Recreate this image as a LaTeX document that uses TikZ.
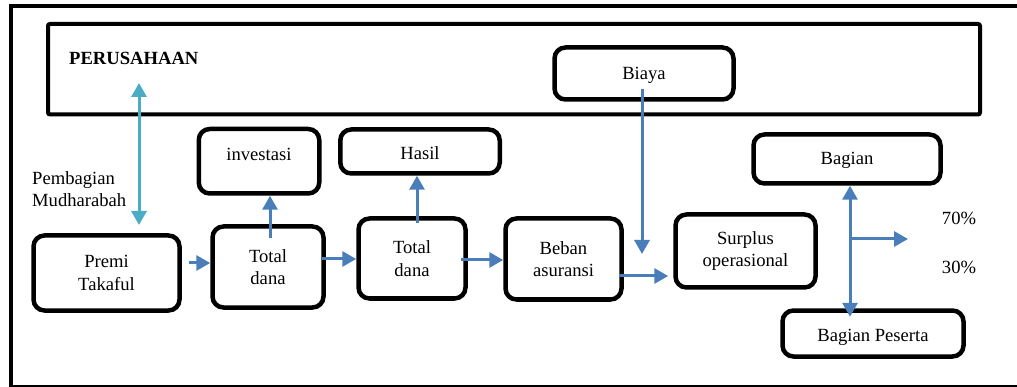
\documentclass[tikz,border=0pt]{standalone}
\usepackage{fontspec}
\setmainfont{Liberation Serif}
\usetikzlibrary{arrows.meta}
\definecolor{arrblue}{HTML}{4A7EBB}
\definecolor{tealc}{HTML}{4BACC6}
\begin{document}
\begin{tikzpicture}[x=1pt,y=-1pt,
  txt/.style={font=\fontsize{18.6}{22.5}\selectfont},
  box/.style={txt,draw=black,fill=white,line width=4.5pt,rounded corners=11pt,inner sep=0pt,align=center},
  arr/.style={draw=arrblue,line width=3pt,-{Triangle[length=14pt,width=15pt]}},
  arrb/.style={draw=arrblue,line width=3pt,{Triangle[length=14pt,width=15pt]}-{Triangle[length=14pt,width=15pt]}},
  tarr/.style={draw=tealc,line width=3pt,{Triangle[length=14pt,width=15pt]}-{Triangle[length=14pt,width=15pt]}},
  lbl/.style={txt,inner sep=0pt}]
\useasboundingbox (0,0) rectangle (1017,387);
% outer frame
\draw[line width=4.5pt] (1017,6) -- (11,6) -- (11,386);
\draw[line width=2pt] (9,386) -- (1017,386);
% company frame
\node[draw=black,line width=4pt,rounded corners=2pt,minimum width=932pt,minimum height=90.5pt,inner sep=0pt] (per) at (514,69.25) {};
\node[lbl,font=\fontsize{18.6}{22.5}\selectfont\bfseries,anchor=base west] (perlbl) at (69,65) {PERUSAHAAN};
% boxes
\node[box,minimum width=179pt,minimum height=52pt,text height=13pt,text depth=0pt] (biaya) at (644,73.5) {Biaya};
\node[box,minimum width=120.5pt,minimum height=64.5pt,text height=5pt,text depth=6pt] (inv) at (259,161.25) {investasi};
\node[box,minimum width=159.5pt,minimum height=44pt,text height=17pt,text depth=0pt] (hasil) at (420,151.5) {Hasil};
\node[box,minimum width=187pt,minimum height=49pt,text height=12pt,text depth=0pt] (bagian) at (847,159) {Bagian};
\node[box,minimum width=146pt,minimum height=75pt] (premi) at (106.5,273) {Premi\\Takaful};
\node[box,minimum width=111pt,minimum height=81pt] (t1) at (268,267) {Total\\dana};
\node[box,minimum width=107pt,minimum height=80pt] (t2) at (412,258.5) {Total\\dana};
\node[box,minimum width=116pt,minimum height=81pt] (beban) at (563.5,259) {Beban\\asuransi};
\node[box,minimum width=140pt,minimum height=73pt] (surplus) at (745.5,251) {Surplus\\operasional};
\node[box,minimum width=181pt,minimum height=46pt,text height=15pt,text depth=0pt] (peserta) at (873,333.5) {Bagian Peserta};
% labels
\node[lbl,align=left,anchor=west] (mud) at (32,189) {Pembagian\\Mudharabah};
\node[lbl,anchor=base] (p70) at (959,225) {70\%};
\node[lbl,anchor=base] (p30) at (959,273) {30\%};
% connectors
\coordinate (mtop) at (139,83);
\coordinate (mbot) at (139,225);
\draw[tarr] (mtop) -- (mbot);
\draw[arr] ([xshift=7.5pt,yshift=10pt]premi.east) coordinate (a1) -- (a1 -| t1.west);
\draw[arr] ([xshift=-3.5pt,yshift=8pt]t1.east) coordinate (a2) -- (a2 -| t2.west);
\draw[arr] ([xshift=-6.5pt,yshift=-1.5pt]t2.east) coordinate (a3) -- (a3 -| beban.west);
\draw[arr,shorten >=5pt] ([xshift=-4.5pt,yshift=-17pt]beban.east) coordinate (a4) -- (a4 -| surplus.west);
\draw[arr] ([xshift=2pt,yshift=-13.5pt]t1.north) coordinate (a5) -- (a5 |- inv.south);
\draw[arr] ([xshift=5pt,yshift=-6.5pt]t2.north) coordinate (a6) -- (a6 |- hasil.south);
\coordinate (bend) at (642,254);
\draw[arr] ([xshift=-2pt,yshift=-15.5pt]biaya.center) -- (bend);
\draw[arrb] ([xshift=3pt]bagian.south) -- ([xshift=3pt,yshift=-8.5pt]bagian.south |- peserta.north);
\coordinate (bra) at (850,239);
\coordinate (brb) at (908,239);
\draw[arr] (bra) -- (brb);
\end{tikzpicture}
\end{document}
